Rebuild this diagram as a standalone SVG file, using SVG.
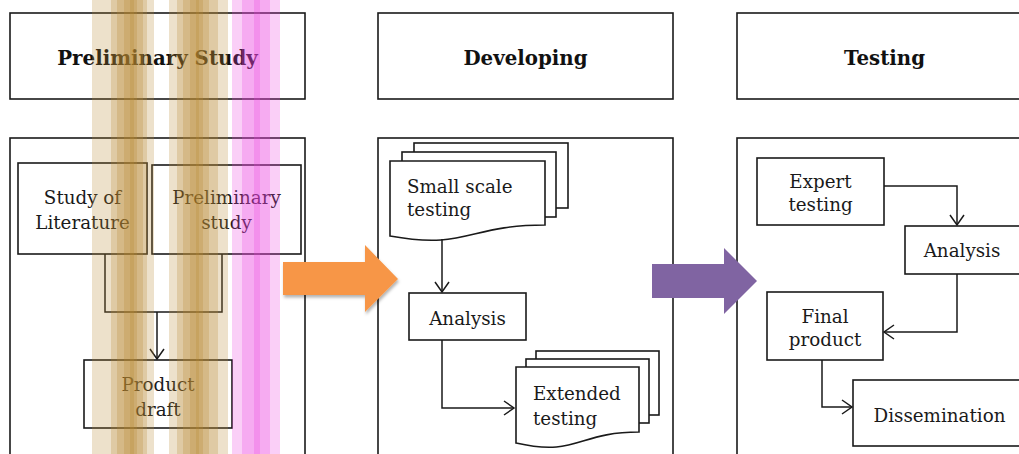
<svg xmlns="http://www.w3.org/2000/svg" width="1019" height="454" viewBox="0 0 1019 454">
  <style>
    .box{fill:#fff;stroke:#1a1a1a;stroke-width:1.6}
    .panel{fill:#fff;stroke:#1a1a1a;stroke-width:1.6}
    .hdr{font-family:"DejaVu Serif","Liberation Serif",serif;font-weight:bold;font-size:19.8px;fill:#111;text-anchor:middle}
    .t{font-family:"DejaVu Serif","Liberation Serif",serif;font-size:18.3px;fill:#1a1a1a;text-anchor:middle}
    .ts{font-family:"DejaVu Serif","Liberation Serif",serif;font-size:18.3px;fill:#1a1a1a;text-anchor:start}
    .conn{fill:none;stroke:#1a1a1a;stroke-width:1.5}
    .tan{fill:#B8862F;fill-opacity:0.25}
    .pink{fill:#EC40E0;fill-opacity:0.25}
  </style>
  <defs>
    <marker id="vh" markerUnits="userSpaceOnUse" markerWidth="14" markerHeight="16" refX="11" refY="8" orient="auto">
      <path d="M1,1 L11,8 L1,15" fill="none" stroke="#1a1a1a" stroke-width="1.5"/>
    </marker>
    <filter id="sh" x="-10%" y="-10%" width="130%" height="140%">
      <feDropShadow dx="1" dy="2.5" stdDeviation="1.5" flood-color="#000" flood-opacity="0.3"/>
    </filter>
  </defs>

  <rect width="1019" height="454" fill="#fff"/>

  <!-- Headers -->
  <g id="hdr-preliminary"><rect class="box" x="10" y="13" width="295" height="86"/><text class="hdr" x="157.5" y="65">Preliminary Study</text></g>
  <g id="hdr-developing"><rect class="box" x="378" y="13" width="295" height="86"/><text class="hdr" x="525.5" y="65">Developing</text></g>
  <g id="hdr-testing"><rect class="box" x="737" y="13" width="300" height="86"/><text class="hdr" x="884.5" y="65">Testing</text></g>

  <!-- Panels -->
  <g id="panel-preliminary"><rect class="panel" x="10" y="138" width="295" height="330"/></g>
  <g id="panel-developing"><rect class="panel" x="378" y="138" width="295" height="330"/></g>
  <g id="panel-testing"><rect class="panel" x="737" y="138" width="300" height="330"/></g>

  <!-- Preliminary panel nodes -->
  <g id="study-literature"><rect class="box" x="18" y="163" width="129" height="91"/><text class="t" x="82.5" y="204">Study of</text><text class="t" x="82.5" y="229">Literature</text></g>
  <g id="preliminary-study"><rect class="box" x="152" y="165" width="149" height="89"/><text class="t" x="226.5" y="204">Preliminary</text><text class="t" x="226.5" y="229">study</text></g>
  <g id="product-draft"><rect class="box" x="84" y="360" width="148" height="68"/><text class="t" x="158" y="391">Product</text><text class="t" x="158" y="416">draft</text></g>

  <!-- Developing panel nodes -->
  <g id="small-scale-testing">
    <rect class="box" x="414" y="143" width="154" height="65"/>
    <rect class="box" x="402" y="152" width="154" height="65"/>
    <path class="box" d="M390,161 H545 V225 C467.5,225 467.5,250 390,236 Z"/>
    <text class="ts" x="407" y="193">Small scale</text><text class="ts" x="407" y="216">testing</text>
  </g>
  <g id="analysis-dev"><rect class="box" x="409" y="293" width="117" height="47"/><text class="t" x="467.5" y="325">Analysis</text></g>
  <g id="extended-testing">
    <rect class="box" x="536" y="351" width="123" height="64"/>
    <rect class="box" x="526" y="359" width="123" height="64"/>
    <path class="box" d="M516,367 H639 V432 C577.5,432 577.5,457 516,443 Z"/>
    <text class="ts" x="533" y="400">Extended</text><text class="ts" x="533" y="425">testing</text>
  </g>

  <!-- Testing panel nodes -->
  <g id="expert-testing"><rect class="box" x="757" y="158" width="127" height="67"/><text class="t" x="820.5" y="188">Expert</text><text class="t" x="820.5" y="211">testing</text></g>
  <g id="analysis-test"><rect class="box" x="905" y="226" width="118" height="48"/><text class="t" x="962" y="257">Analysis</text></g>
  <g id="final-product"><rect class="box" x="767" y="292" width="116" height="68"/><text class="t" x="825" y="323">Final</text><text class="t" x="825" y="346">product</text></g>
  <g id="dissemination"><rect class="box" x="853" y="380" width="175" height="66"/><text class="t" x="939.5" y="422">Dissemination</text></g>

  <!-- Connectors -->
  <g id="connectors">
    <path class="conn" d="M105,254 V312 H222 V254"/>
    <path class="conn" d="M157,312 V359" marker-end="url(#vh)"/>
    <path class="conn" d="M442,239 V292" marker-end="url(#vh)"/>
    <path class="conn" d="M442,340 V408 H514" marker-end="url(#vh)"/>
    <path class="conn" d="M884,186 H957 V225" marker-end="url(#vh)"/>
    <path class="conn" d="M957,274 V332 H884" marker-end="url(#vh)"/>
    <path class="conn" d="M822,360 V407 H852" marker-end="url(#vh)"/>
    <path d="M283,262 H365 V245 L398,279 L365,312 V295 H283 Z" fill="#F79646" filter="url(#sh)"/>
    <path d="M652,264 H724 V248 L757,281 L724,314 V298 H652 Z" fill="#8064A2"/>
  </g>

  <!-- Translucent highlight stripes -->
  <g id="stripes">
    <rect class="tan" x="92" y="0" width="62" height="454"/>
    <rect class="tan" x="111" y="0" width="36" height="454"/>
    <rect class="tan" x="117" y="0" width="26" height="454"/>
    <rect class="tan" x="124" y="0" width="13" height="454"/>
    <rect class="tan" x="130" y="0" width="4" height="454"/>
    <rect class="tan" x="169" y="0" width="59" height="454"/>
    <rect class="tan" x="177" y="0" width="41" height="454"/>
    <rect class="tan" x="183" y="0" width="26" height="454"/>
    <rect class="tan" x="190" y="0" width="13" height="454"/>
    <rect class="tan" x="196" y="0" width="3" height="454"/>
    <rect class="pink" x="232" y="0" width="48" height="454"/>
    <rect class="pink" x="242" y="0" width="28" height="454"/>
    <rect class="pink" x="254" y="0" width="6" height="454"/>
  </g>
</svg>
